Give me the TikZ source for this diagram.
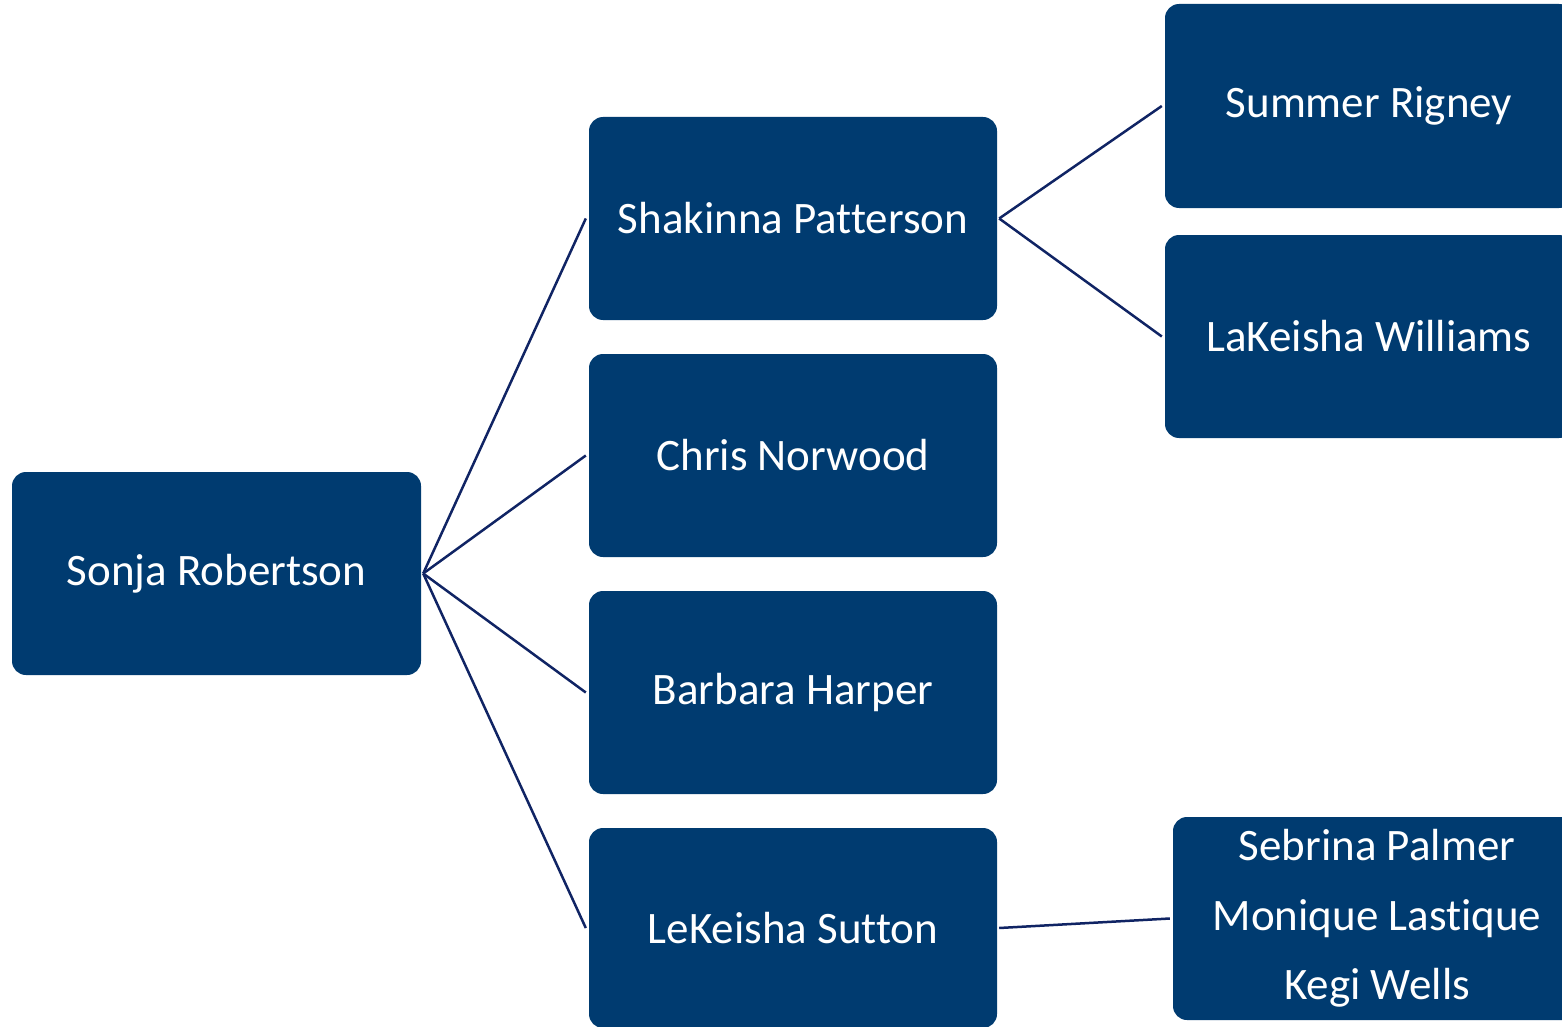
\documentclass[tikz,border=0pt]{standalone}
\usepackage{fontspec}
\setmainfont{Carlito}[Ligatures=NoCommon]
\definecolor{boxblue}{RGB}{0,59,112}
\definecolor{linkblue}{RGB}{16,36,100}
\begin{document}
\begin{tikzpicture}[x=1pt,y=-1pt,
  person/.style={fill=boxblue, rounded corners=14pt, text=white,
    minimum width=408pt, minimum height=203pt, inner sep=0pt,
    font=\fontsize{45}{69.5}\selectfont, align=center},
  link/.style={draw=linkblue, line width=2.5pt}]
\useasboundingbox (0,0) rectangle (1562,1027);

% root
\node[person, minimum width=409pt] (sonja) at (216.5,573.5) {\raisebox{-2pt}{Sonja Robertson}};

% second level
\node[person] (shak)  at (793,218.5) {\raisebox{-1pt}{Shakinna Patterson}};
\node[person] (chris) at (793,455.5) {Chris Norwood};
\node[person] (barb)  at (793,692.5) {Barbara Harper};
\node[person, minimum height=200pt] (lek) at (793,928) {LeKeisha Sutton};

% third level
\node[person, minimum height=204pt] (summer) at (1369,106) {\raisebox{-3pt}{Summer Rigney}};
\node[person] (lakeisha) at (1369,336.5) {LaKeisha Williams};
\node[person] (sebrina) at (1377,918.5) {Sebrina Palmer\\Monique Lastique\\Kegi Wells};

% connectors
\draw[link] ([xshift=2pt]sonja.east) -- ([xshift=-3pt]shak.west);
\draw[link] ([xshift=2pt]sonja.east) -- ([xshift=-3pt]chris.west);
\draw[link] ([xshift=2pt]sonja.east) -- ([xshift=-3pt]barb.west);
\draw[link] ([xshift=2pt]sonja.east) -- ([xshift=-3pt]lek.west);
\draw[link] ([xshift=2pt]shak.east) -- ([xshift=-3pt]summer.west);
\draw[link] ([xshift=2pt]shak.east) -- ([xshift=-3pt]lakeisha.west);
\draw[link] ([xshift=2pt]lek.east) -- ([xshift=-3pt]sebrina.west);
\end{tikzpicture}
\end{document}
